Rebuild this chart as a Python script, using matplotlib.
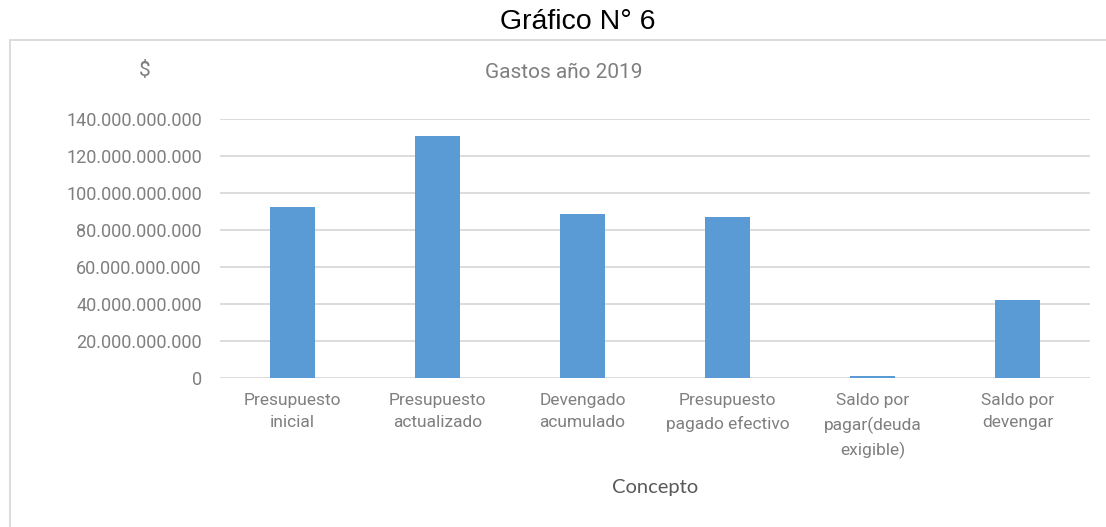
#!/usr/bin/env python3
# Gastos 2019 - bar chart recreation

import matplotlib
matplotlib.use('Agg')
import matplotlib.pyplot as plt
import matplotlib.ticker as ticker
from matplotlib.patches import Rectangle

# data
conceptos = ['Presupuesto\ninicial', 'Presupuesto\nactualizado', 'Devengado\nacumulado',
             'Presupuesto\npagado efectivo', 'Saldo por\npagar(deuda\nexigible)', 'Saldo por\ndevengar']
gastos = [92.6e9, 130.8e9, 88.6e9, 87.0e9, 0.9e9, 42.0e9]
yticks = [0, 20e9, 40e9, 60e9, 80e9, 100e9, 120e9, 140e9]

narrow = ['Liberation Sans Narrow', 'Roboto', 'DejaVu Sans']
gray = '#7f7f7f'
W, H = 1106, 527

fig = plt.figure(figsize=(W/100, H/100), dpi=100)

# outer chart box (only top + left edges are inside the picture)
fig.add_artist(Rectangle((10/W, -0.1), 1.2, (H-40)/H + 0.1, transform=fig.transFigure,
                         fill=False, edgecolor='#d9d9d9', linewidth=1.3))

fig.text(578/W, 1 - 22/H, 'Gráfico N° 6', ha='center', va='center', fontsize=20.5,
         family=['Liberation Sans', 'DejaVu Sans'], color='black')

ax = fig.add_axes([220/W, (H-378)/H, 870/W, 259/H])
x = range(len(conceptos))
ax.bar(x, gastos, width=0.315, color='#5b9bd5', zorder=3)

ax.set_xlim(-0.5, len(conceptos) - 0.5)
ax.set_ylim(0, 140e9)
ax.set_yticks(yticks)
ax.yaxis.set_major_formatter(ticker.FuncFormatter(lambda v, p: f'{int(round(v)):,}'.replace(',', '.')))
ax.grid(axis='y', color='#d9d9d9', linewidth=1.3, zorder=0)
for s in ax.spines.values():
    s.set_visible(False)
ax.tick_params(length=0, labelsize=13, labelcolor=gray)
ax.tick_params(axis='y', pad=13)
ax.tick_params(axis='x', pad=11)
for lbl in ax.get_yticklabels():
    lbl.set_family(narrow)
ax.set_xticks(list(x))
ax.set_xticklabels(conceptos, family=narrow, fontsize=12.5, color=gray, linespacing=1.6, va='top')

fig.text(145/W, 1 - 70/H, '$', ha='center', va='center', fontsize=15, color=gray, family=narrow)
fig.text(564/W, 1 - 73/H, 'Gastos año 2019', ha='center', va='center', fontsize=15,
         color=gray, family=narrow)
fig.text(655/W, 1 - 488/H, 'Concepto', ha='center', va='center', fontsize=14.5,
         color='#595959', family=['Lato', 'DejaVu Sans'])

fig.savefig('out.png', dpi=100, facecolor='white')
